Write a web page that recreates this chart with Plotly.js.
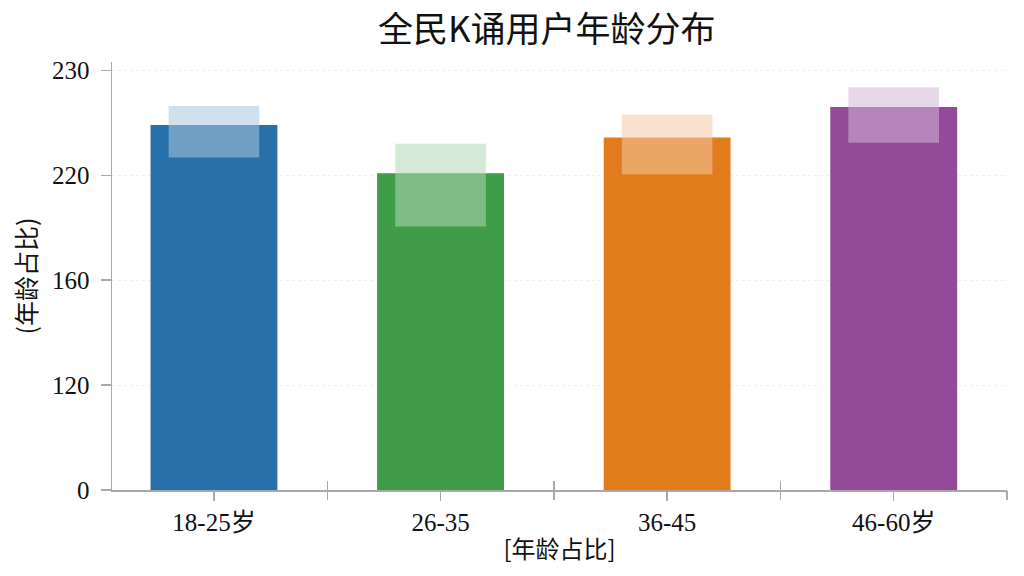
<!DOCTYPE html>
<html>
<head>
<meta charset="utf-8">
<script src="https://cdn.plot.ly/plotly-3.0.1.min.js"></script>
<style>
  html, body { margin: 0; padding: 0; background: #fff; }
  #chart { width: 1024px; height: 576px; }
</style>
</head>
<body>
<div id="chart"></div>
<script>
// values (the y axis is broken: ticks are evenly spaced)
const ageGroups = ['18-25岁', '26-35', '36-45', '46-60岁'];
const shareValues = [224.8, 220.2, 223.6, 226.5];
const glossTop = [226.6, 223.0, 225.8, 228.4];
const glossBottom = [221.7, 190.7, 220.1, 223.1];
const yTickValues = [0, 120, 160, 220, 230];

const barColors = ['#2870a9', '#3f9c49', '#e27b1b', '#934a98'];

// piecewise scale: each tick interval gets the same height
function toPos(v) {
  for (let i = 0; i < yTickValues.length - 1; i++) {
    const a = yTickValues[i], b = yTickValues[i + 1];
    if (v <= b || i === yTickValues.length - 2) {
      return i + (v - a) / (b - a);
    }
  }
  return 0;
}

function lighten(hex, k, alpha) {
  const n = parseInt(hex.slice(1), 16);
  const ch = [(n >> 16) & 255, (n >> 8) & 255, n & 255]
    .map(c => Math.round(c + (255 - c) * k));
  return `rgba(${ch.join(',')},${alpha})`;
}

const barPlot = {
  type: 'bar',
  x: ageGroups,
  y: shareValues.map(toPos),
  customdata: shareValues,
  hovertemplate: '%{x}: %{customdata}<extra></extra>',
  width: 0.56,
  marker: { color: barColors, line: { width: 0 } },
};

const glossPlot = {
  type: 'bar',
  x: ageGroups,
  base: glossBottom.map(toPos),
  y: glossTop.map((t, i) => toPos(t) - toPos(glossBottom[i])),
  width: 0.4,
  hoverinfo: 'skip',
  marker: {
    color: barColors.map(c => lighten(c, 0.6, 0.55)),
    line: { width: 0 },
  },
};

const boundaries = ageGroups.map((g, i) => i + 0.5);
const xRange = [-0.45, ageGroups.length - 0.5];

// empty traces so the tick-only overlay axes get drawn
const tickHolders = ['x2', 'x3'].map(ax => ({
  type: 'scatter', mode: 'markers', x: [], y: [], xaxis: ax, yaxis: 'y', hoverinfo: 'skip',
}));

const axisGrey = '#a8a8a8';
const serif = 'Liberation Serif, Times New Roman, Noto Sans CJK SC, serif';
const cjk = 'Noto Sans CJK SC, sans-serif';

const boundaryAxis = dir => ({
  overlaying: 'x',
  anchor: 'y',
  type: 'linear',
  range: xRange,
  tickvals: boundaries,
  ticks: dir,
  ticklen: 9,
  tickwidth: 1.5,
  tickcolor: axisGrey,
  showticklabels: false,
  showgrid: false,
  zeroline: false,
  showline: false,
});

const layout = {
  width: 1024,
  height: 576,
  margin: { l: 112, r: 17, t: 62, b: 86 },
  paper_bgcolor: '#fff',
  plot_bgcolor: '#fff',
  showlegend: false,
  barmode: 'overlay',
  title: {
    text: '全民K诵用户年龄分布',
    font: { family: cjk, size: 35, color: '#111', weight: 'normal' },
    xref: 'container',
    x: 0.534,
    xanchor: 'center',
    yref: 'container',
    y: 0.948,
    yanchor: 'middle',
  },
  xaxis: {
    type: 'category',
    range: xRange,
    ticks: 'outside',
    ticklen: 9,
    tickwidth: 1.5,
    tickcolor: axisGrey,
    showline: true,
    linecolor: axisGrey,
    linewidth: 1.5,
    showgrid: false,
    tickfont: { family: serif, size: 25, color: '#111' },
    title: {
      text: '[年龄占比]',
      font: { family: cjk, size: 24, color: '#111' },
      standoff: 6,
    },
  },
  xaxis2: boundaryAxis('outside'),
  xaxis3: boundaryAxis('inside'),
  yaxis: {
    range: [0, 4.08],
    tickvals: yTickValues.map(toPos),
    ticktext: yTickValues.map(String),
    ticks: 'outside',
    ticklen: 10,
    tickwidth: 1.5,
    tickcolor: axisGrey,
    showline: true,
    linecolor: axisGrey,
    linewidth: 1.5,
    zeroline: false,
    gridcolor: 'rgba(0,0,0,0.06)',
    griddash: 'dot',
    tickfont: { family: serif, size: 25, color: '#111' },
    ticklabelstandoff: 6,
    title: {
      text: '(年龄占比)',
      font: { family: cjk, size: 25, color: '#111' },
      standoff: 8,
    },
  },
};

Plotly.newPlot('chart', [barPlot, glossPlot, ...tickHolders], layout, { displayModeBar: false, staticPlot: true });
</script>
</body>
</html>
